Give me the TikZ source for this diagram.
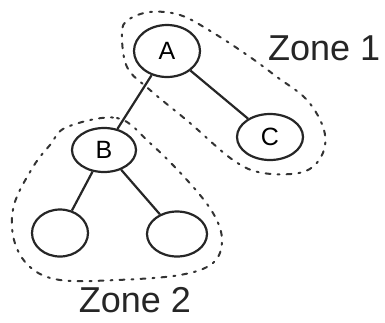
\documentclass[tikz,border=0pt]{standalone}
\usepackage{fontspec}
\setmainfont{Liberation Sans}
\usetikzlibrary{shapes.geometric}
\begin{document}
\begin{tikzpicture}[x=1pt,y=-1pt,
  ink/.style={draw=black!85,line width=2.2pt},
  treenode/.style={ink,ellipse,inner sep=0pt,font=\fontsize{25}{25}\selectfont},
  zone/.style={draw=black!80,line width=2pt,line cap=round,dash pattern=on 2pt off 7pt on 5pt off 7pt},
  zonelabel/.style={font=\fontsize{36}{36}\selectfont,text=black!85,inner sep=0pt}]
\useasboundingbox (0,0) rectangle (385,322);
\node[treenode,minimum width=66pt,minimum height=52pt] (A) at (167,51) {A};
\node[treenode,minimum width=66pt,minimum height=46pt] (C) at (270,137) {C};
\node[treenode,minimum width=64pt,minimum height=44pt] (B) at (104,150) {B};
\node[treenode,minimum width=56pt,minimum height=47pt] (L) at (60,233) {};
\node[treenode,minimum width=60pt,minimum height=45pt] (R) at (177,234) {};
\draw[ink] (A) -- (B);
\draw[ink] (A) -- (C);
\draw[ink] (B) -- (L);
\draw[ink] (B) -- (R);
\draw[zone] plot[smooth cycle,tension=0.6] coordinates {
  (122,33) (127,67) (150,90) (190,123) (233,160) (263,173) (303,172)
  (322,155) (324,130) (307,100) (277,77) (250,57) (212,32) (180,15)
  (150,12) (128,20)};
\draw[zone] plot[smooth cycle,tension=0.6] coordinates {
  (67,127) (117,118) (150,143) (187,180) (213,213) (222,240) (213,263)
  (180,275) (117,280) (60,280) (30,267) (14,240) (14,205) (33,167) (50,145)};
\node[zonelabel,anchor=west] (Z1) at (268,48) {Zone 1};
\node[zonelabel] (Z2) at (135,300) {Zone 2};
\end{tikzpicture}
\end{document}
